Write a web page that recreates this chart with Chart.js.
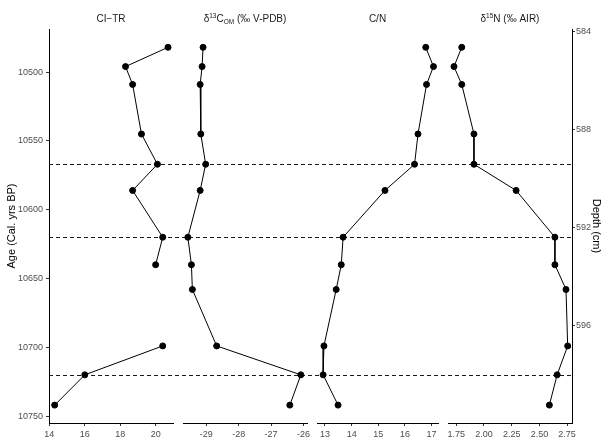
<!DOCTYPE html>
<html>
<head>
<meta charset="utf-8">
<script src="https://cdn.jsdelivr.net/npm/chart.js@4"></script>
<style>
  html, body { margin: 0; padding: 0; background: #fff; }
  #wrap { position: relative; width: 612px; height: 444px; overflow: hidden; }
  #wrap canvas { position: absolute; top: 0; }
</style>
</head>
<body>
<div id="wrap">
  <canvas id="p1" width="178" height="444" style="left:0px"></canvas>
  <canvas id="p2" width="134" height="444" style="left:178px"></canvas>
  <canvas id="p3" width="131" height="444" style="left:312px"></canvas>
  <canvas id="p4" width="169" height="444" style="left:443px"></canvas>
</div>
<script>
// Data (ages in cal. yrs BP, one row per sample)
const ages = [10482, 10496, 10509, 10545, 10567, 10586, 10620, 10640, 10658, 10699, 10720, 10742];
const ciTr = [20.7, 18.3, 18.7, 19.2, 20.1, 18.7, 20.4, 20.0, null, 20.4, 16.0, 14.3];
const d13C = [-29.10, -29.13, -29.19, -29.17, -29.02, -29.19, -29.57, -29.46, -29.43, -28.68, -26.08, -26.42];
const cn   = [16.78, 17.07, 16.81, 16.49, 16.36, 15.25, 13.68, 13.61, 13.42, 12.96, 12.93, 13.49];
const d15N = [1.80, 1.73, 1.80, 1.91, 1.91, 2.29, 2.64, 2.64, 2.74, 2.755, 2.66, 2.59];

// Zone boundaries (dashed lines)
const zoneAges = [10567, 10620, 10720];

// Tick labels
const ageTicks = [10500, 10550, 10600, 10650, 10700, 10750];
const depthTicks = [584, 588, 592, 596];
const ciTrTicks = [14, 16, 18, 20];
const d13CTicks = [-29, -28, -27, -26];
const cnTicks = [13, 14, 15, 16, 17];
const d15NTicks = [1.75, 2.00, 2.25, 2.50, 2.75];

const FONT = "'Liberation Sans', Arial, sans-serif";
const AGE_MIN = 10468.7, AGE_MAX = 10755;
const DEPTH_MIN = 583.9, DEPTH_MAX = 600;

// panel titles, drawn as text runs so the super/subscripts work
const panelTitle = {
    id: 'panelTitle',
    afterDraw(chart, args, opts) {
        const ctx = chart.ctx;
        const segs = opts.segments || [];
        const big = 10, small = 6.5;
        ctx.save();
        let total = 0;
        segs.forEach(s => {
            ctx.font = (s.sup || s.sub ? small : big) + 'px ' + FONT;
            s.w = ctx.measureText(s.t).width;
            total += s.w;
        });
        let x = (chart.chartArea.left + chart.chartArea.right) / 2 - total / 2;
        ctx.fillStyle = '#1a1a1a';
        ctx.textBaseline = 'alphabetic';
        ctx.textAlign = 'left';
        segs.forEach(s => {
            ctx.font = (s.sup || s.sub ? small : big) + 'px ' + FONT;
            const dy = s.sup ? -4 : s.sub ? 2 : 0;
            ctx.fillText(s.t, x, 22 + dy);
            x += s.w;
        });
        ctx.restore();
    }
};

// dashed zone lines; run across the gaps between panels
const zoneLines = {
    id: 'zoneLines',
    beforeDatasetsDraw(chart, args, opts) {
        const {ctx, chartArea, width} = chart;
        const y = chart.scales.y;
        const x0 = opts.fromArea ? chartArea.left : 0;
        const x1 = opts.toArea ? chartArea.right : width;
        ctx.save();
        ctx.strokeStyle = '#1a1a1a';
        ctx.lineWidth = 1;
        ctx.setLineDash([4, 3]);
        ctx.lineDashOffset = (opts.pageLeft + x0) % 7;
        zoneAges.forEach(a => {
            const py = Math.round(y.getPixelForValue(a)) + 0.5;
            ctx.beginPath();
            ctx.moveTo(x0, py);
            ctx.lineTo(x1, py);
            ctx.stroke();
        });
        ctx.restore();
    }
};

const tickFont = { family: FONT, size: 9 };
const tickGrid = { display: true, drawOnChartArea: false, drawTicks: true, tickLength: 3, color: '#333' };
const axisBorder = { display: true, color: '#000', width: 1 };

function xScale(min, max, ticks, fmt) {
    return {
        type: 'linear', position: 'bottom', min: min, max: max,
        afterBuildTicks: s => { s.ticks = ticks.map(v => ({ value: v })); },
        afterFit: s => { s.height = 21; s.paddingLeft = 0; s.paddingRight = 0; },
        ticks: { font: tickFont, color: '#4d4d4d', padding: 3, autoSkip: false, maxRotation: 0,
                 callback: v => fmt ? fmt(v) : String(v) },
        grid: tickGrid,
        border: axisBorder
    };
}

function makePanel(id, values, xs, titleSegs, pad, extra) {
    const showLeft = !!extra.leftAxis;
    const yAxis = {
        type: 'linear', reverse: true, min: AGE_MIN, max: AGE_MAX,
        display: showLeft, position: 'left',
        afterBuildTicks: s => { s.ticks = ageTicks.map(v => ({ value: v })); },
        afterFit: s => {
            if (showLeft) s.width = 49;
            s.paddingTop = 0; s.paddingBottom = 0;
        },
        ticks: { font: tickFont, color: '#4d4d4d', padding: 3, callback: v => String(v) },
        grid: tickGrid,
        border: axisBorder,
        title: { display: true, text: 'Age (Cal. yrs BP)', color: '#000',
                 font: { family: FONT, size: 11 }, padding: { top: 5, bottom: 0 } }
    };
    const scales = { x: xs, y: yAxis };
    if (extra.depthAxis) {
        scales.depth = {
            type: 'linear', position: 'right', reverse: true, min: DEPTH_MIN, max: DEPTH_MAX,
            afterBuildTicks: s => { s.ticks = depthTicks.map(v => ({ value: v })); },
            afterFit: s => { s.width = 40; s.paddingTop = 0; s.paddingBottom = 0; },
            ticks: { font: tickFont, color: '#4d4d4d', padding: 1, callback: v => String(v) },
            grid: tickGrid,
            border: axisBorder,
            title: { display: true, text: 'Depth (cm)', color: '#000',
                     font: { family: FONT, size: 11 }, padding: { top: 9, bottom: 0 } }
        };
    }
    return new Chart(document.getElementById(id), {
        type: 'line',
        data: {
            datasets: [{
                data: ages.map((a, i) => ({ x: values[i], y: a })),
                borderColor: '#000',
                borderWidth: 1,
                pointRadius: 3,
                pointBorderWidth: 1,
                pointBackgroundColor: '#000',
                pointBorderColor: '#000',
                tension: 0,
                spanGaps: false,
                clip: false
            }]
        },
        options: {
            responsive: false,
            animation: false,
            events: [],
            layout: { padding: { top: 29, bottom: 0, left: pad[0], right: pad[1] } },
            scales: scales,
            plugins: {
                legend: { display: false },
                tooltip: { enabled: false },
                panelTitle: { segments: titleSegs },
                zoneLines: { fromArea: showLeft, toArea: !!extra.depthAxis, pageLeft: extra.pageLeft }
            }
        },
        plugins: [panelTitle, zoneLines]
    });
}

makePanel('p1', ciTr, xScale(13.98, 20.98, ciTrTicks),
    [{ t: 'CI\u2212TR' }], [0, 3], { leftAxis: true, pageLeft: 0 });

makePanel('p2', d13C, xScale(-29.72, -25.89, d13CTicks),
    [{ t: '\u03b4' }, { t: '13', sup: true }, { t: 'C' }, { t: 'OM', sub: true }, { t: ' (\u2030 V-PDB)' }],
    [3, 3], { pageLeft: 178 });

makePanel('p3', cn, xScale(12.70, 17.24, cnTicks),
    [{ t: 'C/N' }], [1, 3], { pageLeft: 312 });

makePanel('p4', d15N, xScale(1.676, 2.794, d15NTicks, v => v.toFixed(2)),
    [{ t: '\u03b4' }, { t: '15', sup: true }, { t: 'N (\u2030 AIR)' }],
    [3, 0], { depthAxis: true, pageLeft: 443 });
</script>
</body>
</html>
